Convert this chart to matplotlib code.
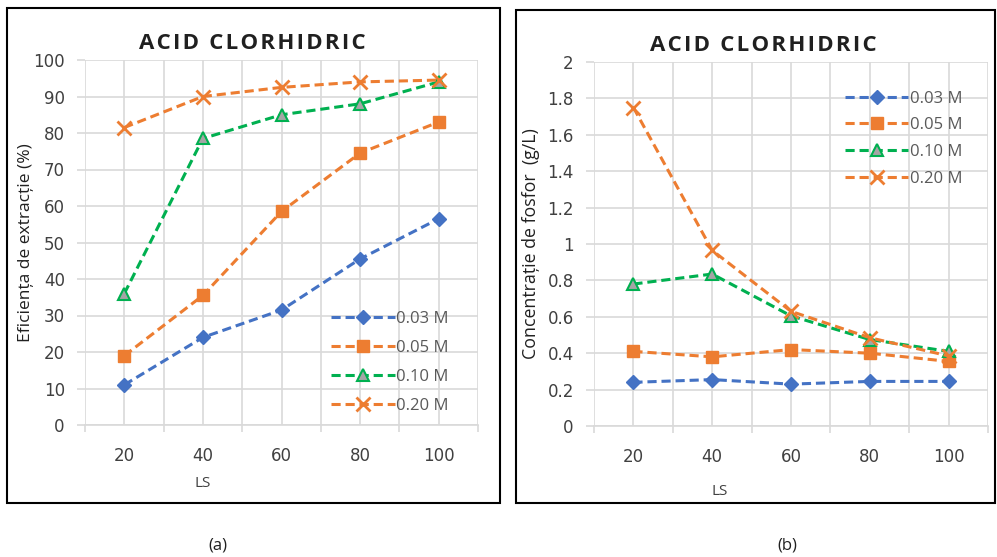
import numpy as np
import matplotlib.pyplot as plt
from matplotlib.patches import Rectangle

plt.rcParams['font.family'] = ['Open Sans', 'DejaVu Sans']

ls_values = [20, 40, 60, 80, 100]
series_names = ['0.03 M', '0.05 M', '0.10 M', '0.20 M']

# (a) extraction efficiency, %
eff_003 = [11, 24, 31.5, 45.5, 56.5]
eff_005 = [19, 35.5, 58.5, 74.5, 83]
eff_010 = [36, 78.5, 85, 88, 94]
eff_020 = [81.5, 90, 92.5, 94, 94.5]

# (b) phosphorus concentration, g/L
conc_003 = [0.24, 0.255, 0.23, 0.245, 0.245]
conc_005 = [0.41, 0.38, 0.42, 0.40, 0.355]
conc_010 = [0.78, 0.835, 0.605, 0.475, 0.41]
conc_020 = [1.75, 0.965, 0.63, 0.485, 0.385]

blue = '#4472C4'
orange = '#ED7D31'
green = '#00B050'
grid_c = '#D9D9D9'
text_c = '#404040'

styles = [
    dict(color=blue, marker='D', markersize=7, markerfacecolor=blue, markeredgecolor=blue),
    dict(color=orange, marker='s', markersize=8.5, markerfacecolor=orange, markeredgecolor=orange),
    dict(color=green, marker='^', markersize=9, markerfacecolor='#A5A5A5', markeredgecolor=green,
         markeredgewidth=1.5),
    dict(color=orange, marker='x', markersize=10, markeredgewidth=2),
]

title = '\u200a'.join('ACID CLORHIDRIC')


def draw_panel(ax, data, ymax, ystep, ylabel, ylabel_size, ylabel_x, legend_anchor, spacing,
               ls_pos, title_x):
    for vals, name, st in zip(data, series_names, styles):
        ax.plot(ls_values, vals, linestyle=(0, (3, 1.6)), linewidth=2.2, label=name, **st)
    ax.set_xlim(10, 110)
    ax.set_ylim(0, ymax)
    ax.set_xticks(ls_values)
    ax.set_xticks(range(10, 111, 20), minor=True)
    ax.set_yticks(np.arange(0, ymax + ystep / 2, ystep))
    ax.grid(True, which='both', color=grid_c, linewidth=1.2)
    ax.set_axisbelow(True)
    for s in ['top', 'right', 'left']:
        ax.spines[s].set_visible(False)
    ax.spines['bottom'].set_color(grid_c)
    ax.spines['bottom'].set_linewidth(1.2)
    ax.tick_params(axis='x', which='major', length=0, pad=16, labelsize=12, labelcolor=text_c)
    ax.tick_params(axis='x', which='minor', length=5, color=grid_c, width=1.2)
    ax.tick_params(axis='y', length=5.5, color=grid_c, width=1.2, pad=9, labelsize=12,
                   labelcolor=text_c)
    ax.set_xlabel('LS', fontsize=11, color=text_c)
    ax.xaxis.set_label_coords(*ls_pos)
    ax.set_ylabel(ylabel, fontsize=ylabel_size, color='#202020')
    ax.yaxis.set_label_coords(ylabel_x, 0.5)
    ax.set_title(title, fontsize=16, fontweight='bold', color='#202020', pad=8,
                 family='Open Sans', x=title_x)
    ax.legend(loc='upper left', bbox_to_anchor=legend_anchor, frameon=False, fontsize=12,
              labelcolor='#595959', handlelength=3.8, handletextpad=0.1, labelspacing=spacing,
              borderaxespad=0)


fig = plt.figure(figsize=(9.97, 5.57), dpi=100)

ax1 = fig.add_axes([85 / 997, 1 - 425 / 557, 393 / 997, 365 / 557])
draw_panel(ax1, [eff_003, eff_005, eff_010, eff_020], 100, 10,
           'Eficiența de extracție (%)', 12.5, -0.13, (0.61, 0.33), 0.78, (0.30, -0.14), 0.426)
ax1.set_xticklabels([str(v) for v in ls_values], family='DejaVu Sans')
ax1.set_yticklabels([str(v) for v in range(0, 101, 10)], family='DejaVu Sans')

ax2 = fig.add_axes([594 / 997, 1 - 426 / 557, 394 / 997, 364 / 557])
draw_panel(ax2, [conc_003, conc_005, conc_010, conc_020], 2, 0.2,
           'Concentrație de fosfor  (g/L)', 12.8, -0.137, (0.62, 0.94), 0.64, (0.32, -0.16), 0.429)
ax2.set_xticklabels([str(v) for v in ls_values], family='DejaVu Sans')
ax2.set_yticklabels(['0', '0.2', '0.4', '0.6', '0.8', '1', '1.2', '1.4', '1.6', '1.8', '2'],
                    family='DejaVu Sans')

# panel frames
fig.patches.append(Rectangle((7 / 997, 1 - 503 / 557), 493 / 997, 495 / 557,
                             transform=fig.transFigure, fill=False, edgecolor='black',
                             linewidth=1.5, zorder=0))
fig.patches.append(Rectangle((516 / 997, 1 - 503 / 557), 479 / 997, 493 / 557,
                             transform=fig.transFigure, fill=False, edgecolor='black',
                             linewidth=1.5, zorder=0))

fig.text(218 / 997, 1 - 545 / 557, '(a)', ha='center', va='center', fontsize=12, color='#202020')
fig.text(787 / 997, 1 - 545 / 557, '(b)', ha='center', va='center', fontsize=12, color='#202020')

fig.savefig('out.png', dpi=100)
